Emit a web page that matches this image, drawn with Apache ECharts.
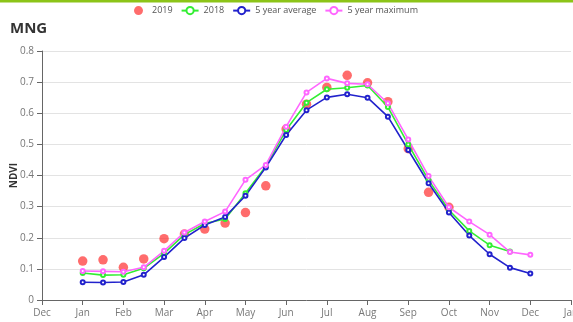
<!DOCTYPE html>
<html>
<head>
<meta charset="utf-8">
<script src="https://cdn.jsdelivr.net/npm/echarts@6/dist/echarts.min.js"></script>
<style>
  html, body { margin: 0; padding: 0; background: #fff; }
  #chart { width: 573px; height: 322px; }
</style>
</head>
<body>
<div id="chart"></div>
<script>
// Month tick labels (x = 0 is Dec of the previous year, x = 13 is Jan of the next)
const monthLabels = ['Dec', 'Jan', 'Feb', 'Mar', 'Apr', 'May', 'Jun', 'Jul', 'Aug', 'Sep', 'Oct', 'Nov', 'Dec', 'Jan'];

// Half-month positions: 1 = 1 Jan, 1.5 = mid Jan, ... 12 = 1 Dec
const periods = [1, 1.5, 2, 2.5, 3, 3.5, 4, 4.5, 5, 5.5, 6, 6.5, 7, 7.5, 8, 8.5, 9, 9.5, 10, 10.5, 11, 11.5, 12];

// NDVI values per half-month
const ndvi2019 = [0.125, 0.129, 0.105, 0.132, 0.197, 0.212, 0.228, 0.247, 0.281, 0.367,
                  0.549, 0.629, 0.683, 0.722, 0.698, 0.637, 0.486, 0.346, 0.298];
const ndvi2018 = [0.087, 0.080, 0.081, 0.102, 0.150, 0.210, 0.246, 0.260, 0.343, 0.430,
                  0.546, 0.634, 0.677, 0.682, 0.689, 0.620, 0.500, 0.385, 0.289, 0.222,
                  0.176, 0.156];
const avg5 = [0.057, 0.056, 0.058, 0.081, 0.138, 0.199, 0.241, 0.267, 0.335, 0.426,
              0.530, 0.610, 0.651, 0.661, 0.650, 0.589, 0.482, 0.375, 0.281, 0.207,
              0.147, 0.104, 0.085];
const max5 = [0.093, 0.092, 0.091, 0.105, 0.158, 0.217, 0.252, 0.284, 0.386, 0.434,
              0.557, 0.667, 0.712, 0.696, 0.693, 0.632, 0.516, 0.398, 0.298, 0.252,
              0.210, 0.154, 0.145];

const pair = (vals) => vals.map((v, i) => [periods[i], v]);

const font = '"Open Sans", "Noto Sans", sans-serif';

const lineSeries = (name, color, vals) => ({
  name: name,
  type: 'line',
  data: pair(vals),
  symbol: 'emptyCircle',
  symbolSize: 4,
  lineStyle: { color: color, width: 1.6 },
  itemStyle: { color: color, borderWidth: 1 },
  z: 3
});

const chart = echarts.init(document.getElementById('chart'), null, { renderer: 'canvas' });
chart.setOption({
  animation: false,
  backgroundColor: '#fff',
  textStyle: { fontFamily: font },
  graphic: [
    { type: 'rect', left: 0, top: 0, shape: { width: 573, height: 2.5 }, style: { fill: '#8cc418' } }
  ],
  title: {
    text: 'MNG',
    left: 5,
    top: 16,
    textStyle: { fontFamily: font, fontSize: 15, fontWeight: 'bold', color: '#333' }
  },
  legend: {
    top: 1,
    left: 129,
    itemGap: 8,
    itemWidth: 17,
    itemHeight: 9,
    textStyle: { fontFamily: font, fontSize: 9, color: '#555' },
    data: [
      { name: '2019', icon: 'circle' },
      '2018',
      '5 year average',
      '5 year maximum'
    ]
  },
  grid: { left: 42, right: 2, top: 51, bottom: 22, outerBoundsMode: 'none', containLabel: false },
  xAxis: {
    type: 'value',
    min: 0,
    max: 13,
    interval: 1,
    axisLine: { lineStyle: { color: '#666' } },
    axisTick: { show: true, lineStyle: { color: '#666' } },
    splitLine: { show: false },
    axisLabel: {
      color: '#777',
      fontSize: 10,
      fontFamily: font,
      formatter: (v) => monthLabels[Math.round(v)]
    }
  },
  yAxis: {
    type: 'value',
    min: 0,
    max: 0.8,
    interval: 0.1,
    name: 'NDVI',
    nameLocation: 'middle',
    nameGap: 23,
    nameRotate: 90,
    nameMoveOverlap: false,
    nameTextStyle: { fontFamily: font, fontSize: 10, fontWeight: 'bold', color: '#333' },
    axisLine: { show: true, lineStyle: { color: '#666' } },
    axisTick: { show: true, lineStyle: { color: '#666' } },
    splitLine: { lineStyle: { color: '#e3e3e3' } },
    axisLabel: {
      color: '#777',
      fontSize: 10,
      fontFamily: font,
      formatter: (v) => (v === 0 ? '0' : v.toFixed(1))
    }
  },
  series: [
    {
      name: '2019',
      type: 'scatter',
      data: pair(ndvi2019),
      symbol: 'circle',
      symbolSize: 9.5,
      itemStyle: { color: 'rgba(255, 40, 40, 0.85)' },
      z: 2
    },
    lineSeries('2018', '#33ee33', ndvi2018),
    lineSeries('5 year average', '#2222cc', avg5),
    lineSeries('5 year maximum', '#ff66ff', max5)
  ]
});
</script>
</body>
</html>
